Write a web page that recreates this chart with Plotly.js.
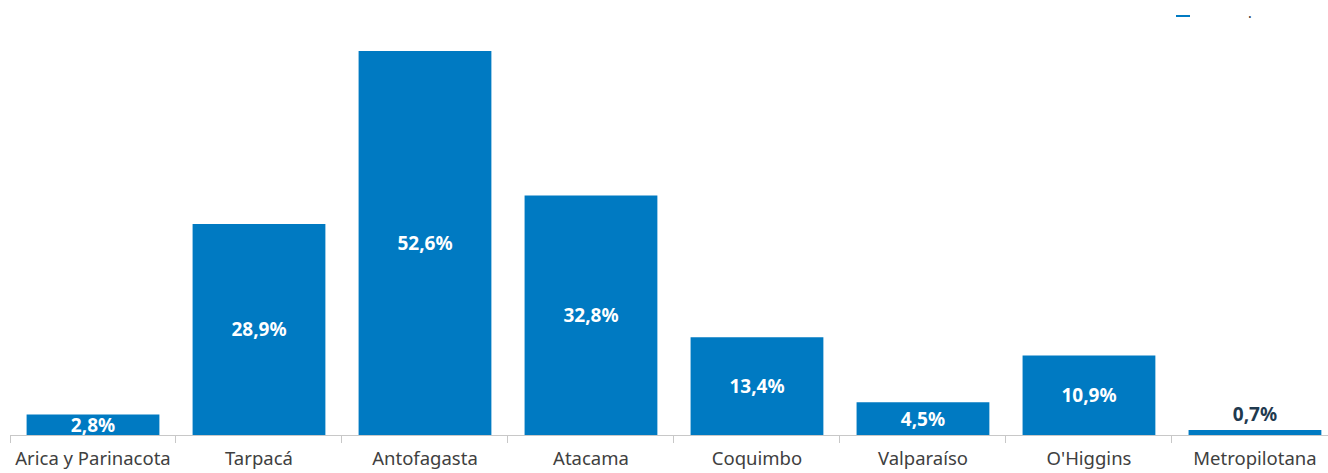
<!DOCTYPE html>
<html><head><meta charset="utf-8">
<script src="https://cdn.plot.ly/plotly-3.0.1.min.js"></script>
<style>html,body{margin:0;padding:0;background:#fff;}#chart{width:1328px;height:473px;}</style>
</head><body><div id="chart"></div>
<script>
const categories = ["Arica y Parinacota","Tarpacá","Antofagasta","Atacama","Coquimbo","Valparaíso","O'Higgins","Metropilotana"];
const values = [2.8, 28.9, 52.6, 32.8, 13.4, 4.5, 10.9, 0.7];
const labels = values.map(v => v.toFixed(1).replace('.', ',') + '%');
const positions = values.map(v => v < 2 ? 'outside' : 'inside');

const trace = {
  type: 'bar',
  x: categories,
  y: values,
  text: labels,
  textposition: positions,
  insidetextanchor: 'middle',
  constraintext: 'none',
  cliponaxis: false,
  marker: {color: '#007AC2'},
  insidetextfont: {family: 'Noto Sans', size: 19, color: '#ffffff', weight: 'bold'},
  outsidetextfont: {family: 'Noto Sans', size: 19, color: '#1f3a4f', weight: 'bold'},
  hoverinfo: 'none'
};

const layout = {
  width: 1328, height: 473,
  margin: {l: 10, r: 0, t: 10, b: 38},
  paper_bgcolor: '#fff', plot_bgcolor: '#fff',
  bargap: 0.2,
  showlegend: false,
  xaxis: {
    type: 'category',
    range: [-0.5, 7.44],
    tickson: 'boundaries',
    ticks: 'outside', ticklen: 7, tickcolor: '#c8c8c8', tickwidth: 1,
    showline: true, linecolor: '#c8c8c8', linewidth: 1,
    showgrid: false,
    ticklabelstandoff: 7,
    tickfont: {family: 'Noto Sans', size: 18.5, color: '#404040'}
  },
  yaxis: {
    range: [0, 58.2], visible: false, showgrid: false, zeroline: false
  },
  shapes: [
    {type: 'line', xref: 'paper', yref: 'paper', x0: (1176-10)/1318, x1: (1190-10)/1318, y0: (473-38-16)/425, y1: (473-38-16)/425, line: {color: '#007AC2', width: 2}}
  ],
  annotations: [
    {xref: 'paper', yref: 'paper', x: (1254-10)/1318, y: (473-38-16)/425, text: '.', showarrow: false, font: {family: 'Noto Sans', size: 14, color: '#333'}, yanchor: 'bottom', yshift: -8}
  ]
};

Plotly.newPlot('chart', [trace], layout, {displayModeBar: false, staticPlot: true});
</script></body></html>
